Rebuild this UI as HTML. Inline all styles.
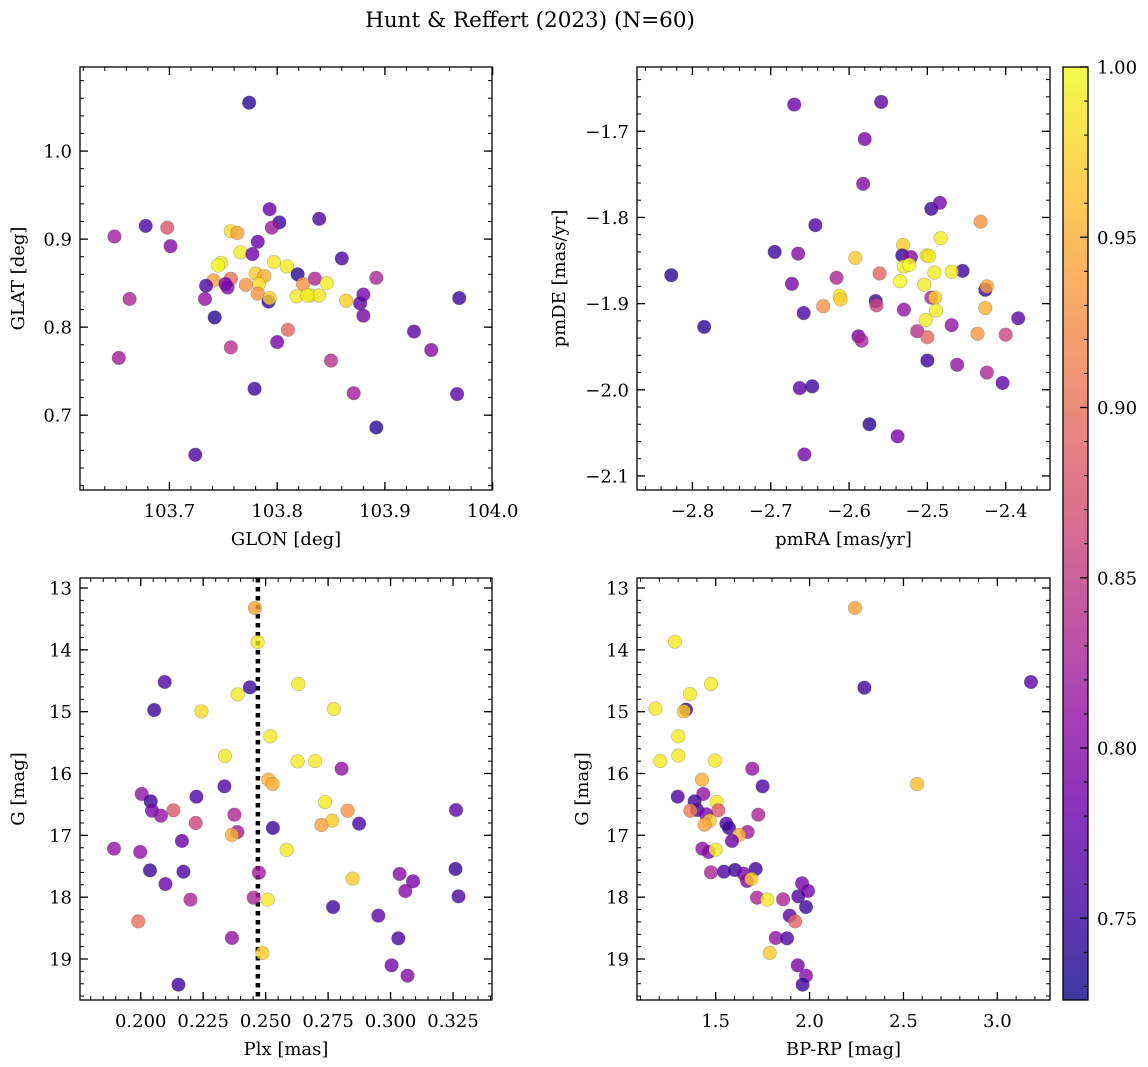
<!DOCTYPE html>
<html><head><meta charset="utf-8">
<style>
html,body{margin:0;padding:0;background:#fff;}
svg{display:block;font-family:"DejaVu Serif","Liberation Serif",serif;}
</style></head>
<body>
<svg id="fig" width="1148" height="1067" viewBox="0 0 1148 1067" xmlns="http://www.w3.org/2000/svg">
<rect width="1148" height="1067" fill="#fff"/>
<text x="530" y="27" font-size="21.5" text-anchor="middle">Hunt &amp; Reffert (2023) (N=60)</text>
</svg>
<script>
// ---- Panel 1: GLON vs GLAT ----
const glon1 = [103.774,103.793,103.802,103.795,103.839,103.678,103.698,103.649,103.701,103.757,103.763,103.782,103.766,103.777,103.748,103.745,103.797,103.809,103.860,103.819,103.835,103.846,103.892,103.741,103.757,103.780,103.788,103.783,103.771,103.734,103.754,103.824,103.782,103.792,103.793,103.818,103.831,103.839,103.864,103.880,103.877,103.880,103.969,103.663,103.733,103.742,103.810,103.800,103.757,103.653,103.927,103.943,103.850,103.779,103.871,103.967,103.892,103.724,103.752,103.828];
const glat1 = [1.055,0.934,0.919,0.913,0.923,0.915,0.913,0.903,0.892,0.909,0.907,0.897,0.885,0.883,0.873,0.870,0.874,0.869,0.878,0.860,0.855,0.850,0.856,0.853,0.855,0.861,0.858,0.849,0.848,0.847,0.845,0.849,0.838,0.829,0.833,0.835,0.836,0.836,0.830,0.837,0.827,0.813,0.833,0.832,0.832,0.811,0.797,0.783,0.777,0.765,0.795,0.774,0.762,0.730,0.725,0.724,0.686,0.655,0.849,0.836];
const prob1 = [0.74,0.78,0.75,0.82,0.76,0.76,0.88,0.82,0.80,0.98,0.94,0.78,0.99,0.78,0.99,1.0,0.99,0.99,0.76,0.74,0.83,0.99,0.83,0.94,0.90,0.97,0.95,0.98,0.93,0.76,0.80,0.93,0.93,0.74,0.97,0.99,0.99,0.99,0.97,0.79,0.77,0.79,0.75,0.83,0.81,0.74,0.89,0.79,0.84,0.82,0.77,0.80,0.84,0.75,0.82,0.77,0.74,0.76,0.79,0.99];
// ---- Panel 2: pmRA vs pmDE ----
const pmra2 = [-2.670,-2.559,-2.580,-2.582,-2.495,-2.484,-2.432,-2.643,-2.483,-2.695,-2.665,-2.531,-2.532,-2.521,-2.592,-2.501,-2.498,-2.827,-2.455,-2.469,-2.530,-2.523,-2.491,-2.561,-2.616,-2.535,-2.673,-2.504,-2.426,-2.424,-2.612,-2.611,-2.566,-2.565,-2.495,-2.490,-2.633,-2.530,-2.489,-2.426,-2.658,-2.502,-2.384,-2.469,-2.513,-2.500,-2.436,-2.400,-2.588,-2.584,-2.785,-2.500,-2.462,-2.424,-2.404,-2.663,-2.647,-2.574,-2.538,-2.657];
const pmde2 = [-1.669,-1.666,-1.709,-1.761,-1.790,-1.783,-1.805,-1.809,-1.824,-1.840,-1.842,-1.832,-1.844,-1.846,-1.847,-1.844,-1.845,-1.867,-1.862,-1.863,-1.857,-1.855,-1.864,-1.865,-1.870,-1.874,-1.877,-1.878,-1.884,-1.880,-1.891,-1.895,-1.897,-1.902,-1.893,-1.893,-1.903,-1.907,-1.908,-1.905,-1.911,-1.919,-1.917,-1.925,-1.932,-1.939,-1.935,-1.936,-1.938,-1.943,-1.927,-1.966,-1.971,-1.980,-1.992,-1.998,-1.996,-2.040,-2.054,-2.075];
const prob2 = [0.78,0.77,0.79,0.80,0.75,0.79,0.93,0.76,0.99,0.75,0.80,0.97,0.75,0.80,0.97,0.98,0.99,0.74,0.75,0.99,0.99,1.0,0.99,0.89,0.83,1.0,0.79,0.99,0.75,0.94,0.99,0.97,0.75,0.86,0.83,0.97,0.93,0.81,0.99,0.95,0.76,0.99,0.77,0.81,0.84,0.89,0.93,0.86,0.79,0.83,0.74,0.75,0.81,0.83,0.77,0.77,0.75,0.74,0.79,0.79];
// ---- Panel 3: Plx vs G ----
const plx3 = [0.2457,0.2468,0.2096,0.2437,0.2631,0.2388,0.2054,0.2243,0.2773,0.2519,0.2337,0.2628,0.2698,0.2804,0.2511,0.2528,0.2335,0.2004,0.2040,0.2223,0.2045,0.2081,0.2131,0.2375,0.2220,0.2738,0.2828,0.2766,0.2723,0.2874,0.2529,0.2387,0.2365,0.2165,0.1893,0.1998,0.2584,0.3262,0.2037,0.2171,0.2473,0.2848,0.3036,0.3090,0.3260,0.2099,0.3059,0.3272,0.2199,0.2452,0.2508,0.2770,0.2951,0.1990,0.2365,0.3031,0.2487,0.3004,0.3068,0.2151];
const gmag3 = [13.323,13.873,14.520,14.606,14.552,14.719,14.973,14.994,14.957,15.399,15.717,15.803,15.798,15.922,16.099,16.170,16.207,16.331,16.450,16.374,16.601,16.682,16.595,16.666,16.800,16.461,16.601,16.762,16.833,16.811,16.881,16.946,16.994,17.091,17.215,17.269,17.237,16.590,17.566,17.587,17.604,17.700,17.625,17.744,17.544,17.787,17.900,17.986,18.040,18.008,18.040,18.159,18.299,18.391,18.660,18.666,18.903,19.102,19.269,19.415];
const prob3 = [0.94,0.99,0.76,0.75,0.99,0.99,0.75,0.98,0.99,0.99,0.99,0.99,0.99,0.81,0.95,0.95,0.76,0.81,0.75,0.76,0.79,0.81,0.88,0.83,0.86,0.99,0.93,0.97,0.94,0.76,0.75,0.82,0.95,0.78,0.81,0.81,0.99,0.77,0.75,0.76,0.82,0.97,0.80,0.79,0.75,0.78,0.80,0.76,0.83,0.83,0.99,0.75,0.77,0.90,0.81,0.76,0.97,0.79,0.80,0.75];
const plxMedian = 0.2469;
// ---- Panel 4: BP-RP vs G ----
const bprp4 = [2.242,1.283,2.292,3.179,1.475,1.363,1.179,1.342,1.330,1.301,1.301,1.205,1.496,1.695,1.427,2.572,1.750,1.434,1.298,1.388,1.505,1.401,1.365,1.514,1.449,1.727,1.468,1.441,1.557,1.571,1.670,1.624,1.587,1.429,1.463,1.500,1.475,1.544,1.603,1.713,1.649,1.667,1.690,1.960,1.992,1.940,1.720,1.859,1.775,1.981,1.894,1.923,1.820,1.880,1.788,1.937,1.981,1.963];
const gmag4 = [13.323,13.868,14.612,14.520,14.552,14.714,14.951,14.967,14.994,15.399,15.711,15.798,15.792,15.922,16.099,16.170,16.207,16.331,16.374,16.450,16.461,16.590,16.601,16.595,16.660,16.666,16.762,16.827,16.811,16.881,16.946,16.994,17.091,17.215,17.269,17.231,17.598,17.587,17.560,17.544,17.620,17.738,17.706,17.776,17.900,17.986,18.008,18.035,18.040,18.159,18.299,18.391,18.660,18.666,18.903,19.102,19.269,19.415];
const prob4 = [0.94,0.99,0.75,0.77,0.99,0.99,0.99,0.75,0.97,0.99,0.99,0.99,0.99,0.81,0.95,0.96,0.76,0.81,0.76,0.75,0.99,0.76,0.91,0.88,0.79,0.83,0.97,0.94,0.76,0.75,0.82,0.95,0.78,0.81,0.80,0.99,0.83,0.76,0.75,0.75,0.79,0.80,0.97,0.79,0.79,0.76,0.83,0.83,0.99,0.75,0.77,0.89,0.81,0.76,0.97,0.79,0.80,0.75];
// ---- Colorbar ----
const cbMin = 0.726, cbMax = 1.0;
const cbTicks = [0.75,0.80,0.85,0.90,0.95,1.00];

const NS = "http://www.w3.org/2000/svg";
const svg = document.getElementById('fig');
function mk(tag, attrs, parent){
  const e = document.createElementNS(NS, tag);
  for (const k in attrs) e.setAttribute(k, attrs[k]);
  (parent||svg).appendChild(e);
  return e;
}
const stops = ["#0d0887","#41049d","#6a00a8","#8f0da4","#b12a90","#cc4778","#e16462","#f2844b","#fca636","#fcce25","#f0f921"];
function hex(c){return [parseInt(c.slice(1,3),16),parseInt(c.slice(3,5),16),parseInt(c.slice(5,7),16)];}
function plasma(t){
  t=Math.max(0,Math.min(1,t));
  const f=t*10, i=Math.min(9,Math.floor(f)), u=f-i;
  const a=hex(stops[i]), b=hex(stops[i+1]);
  return 'rgb('+a.map((v,j)=>Math.round(v+(b[j]-v)*u)).join(',')+')';
}
function colorOf(p){return plasma((p-cbMin)/(cbMax-cbMin));}
const TF = 18;
const LF = 18;

function panel(cfg){
  const g = mk('g', {});
  
  
  const {x0,x1,y0,y1,xd,yd,invertY} = cfg;
  const sx = v => x0 + (v - xd[0])/(xd[1]-xd[0])*(x1-x0);
  const sy = invertY ? (v => y0 + (v - yd[0])/(yd[1]-yd[0])*(y1-y0))
                     : (v => y1 - (v - yd[0])/(yd[1]-yd[0])*(y1-y0));
  const cid = 'clip-'+cfg.name;
  const cp = mk('clipPath', {id:cid}, g);
  mk('rect', {x:x0,y:y0,width:x1-x0,height:y1-y0}, cp);
  const pg = mk('g', {'clip-path':'url(#'+cid+')'}, g);
  if (cfg.vline !== undefined){
    const l = mk('line', {x1:sx(cfg.vline),x2:sx(cfg.vline),y1:y0,y2:y1,stroke:'#000','stroke-width':4.5,'stroke-dasharray':'4.5 4.5'}, pg);
    
    
  }
  for (let i=0;i<cfg.xs.length;i++){
    const c = mk('circle', {cx:sx(cfg.xs[i]), cy:sy(cfg.ys[i]), r:6.8, fill:colorOf(cfg.cs[i]), 'fill-opacity':0.8, stroke:'#444', 'stroke-opacity':0.35, 'stroke-width':0.6}, pg);
    
    
  }
  mk('rect', {x:x0,y:y0,width:x1-x0,height:y1-y0,fill:'none',stroke:'#000','stroke-width':1.3}, g);
  const eps=1e-9;
  const xa = mk('g', {}, g);
  
  
  for (let v=Math.ceil(xd[0]/cfg.xminor-eps)*cfg.xminor; v<=xd[1]+eps; v+=cfg.xminor){
    const X=sx(v);
    mk('line',{x1:X,x2:X,y1:y1,y2:y1-4,stroke:'#000','stroke-width':1},xa);
    mk('line',{x1:X,x2:X,y1:y0,y2:y0+4,stroke:'#000','stroke-width':1},xa);
  }
  cfg.xmajor.forEach(v=>{
    const X=sx(v);
    mk('line',{x1:X,x2:X,y1:y1,y2:y1-8,stroke:'#000','stroke-width':1.3},xa);
    mk('line',{x1:X,x2:X,y1:y0,y2:y0+8,stroke:'#000','stroke-width':1.3},xa);
    const t=mk('text',{x:X,y:y1+27,'font-size':TF,'text-anchor':'middle'},xa);
    t.textContent=(v<0?'\u2212':'')+Math.abs(v).toFixed(cfg.xdec);
    
    
  });
  const ya = mk('g', {}, g);
  
  
  const ylo=Math.min(yd[0],yd[1]), yhi=Math.max(yd[0],yd[1]);
  for (let v=Math.ceil(ylo/cfg.yminor-eps)*cfg.yminor; v<=yhi+eps; v+=cfg.yminor){
    const Y=sy(v);
    mk('line',{x1:x0,x2:x0+4,y1:Y,y2:Y,stroke:'#000','stroke-width':1},ya);
    mk('line',{x1:x1,x2:x1-4,y1:Y,y2:Y,stroke:'#000','stroke-width':1},ya);
  }
  cfg.ymajor.forEach(v=>{
    const Y=sy(v);
    mk('line',{x1:x0,x2:x0+8,y1:Y,y2:Y,stroke:'#000','stroke-width':1.3},ya);
    mk('line',{x1:x1,x2:x1-8,y1:Y,y2:Y,stroke:'#000','stroke-width':1.3},ya);
    const t=mk('text',{x:x0-8,y:Y+6.5,'font-size':TF,'text-anchor':'end'},ya);
    t.textContent=(v<0?'\u2212':'')+Math.abs(v).toFixed(cfg.ydec);
    
    
  });
  const xl=mk('text',{x:(x0+x1)/2,y:y1+55,'font-size':LF,'text-anchor':'middle'},g);
  xl.textContent=cfg.xlabel;
  
  
  const yl=mk('text',{x:0,y:0,'font-size':LF,'text-anchor':'middle',transform:'translate('+cfg.ylx+','+((y0+y1)/2)+') rotate(-90)'},g);
  yl.textContent=cfg.ylabel;
  
  
}

panel({name:'glon-glat-panel',x0:80,x1:492,y0:67,y1:490,xd:[103.617,103.9994],yd:[0.615,1.0955],
  xs:glon1,ys:glat1,cs:prob1,xmajor:[103.7,103.8,103.9,104.0],xminor:0.02,xdec:1,
  ymajor:[0.7,0.8,0.9,1.0],yminor:0.02,ydec:1,xlabel:'GLON [deg]',ylabel:'GLAT [deg]',ylx:24});
panel({name:'proper-motion-panel',x0:637,x1:1050,y0:67,y1:490,xd:[-2.8708,-2.3434],yd:[-2.1163,-1.6254],
  xs:pmra2,ys:pmde2,cs:prob2,xmajor:[-2.8,-2.7,-2.6,-2.5,-2.4],xminor:0.02,xdec:1,
  ymajor:[-2.1,-2.0,-1.9,-1.8,-1.7],yminor:0.02,ydec:1,xlabel:'pmRA [mas/yr]',ylabel:'pmDE [mas/yr]',ylx:565});
panel({name:'parallax-mag-panel',x0:80,x1:492,y0:578,y1:1000,xd:[0.1757,0.3406],yd:[12.838,19.663],invertY:true,
  xs:plx3,ys:gmag3,cs:prob3,vline:plxMedian,xmajor:[0.200,0.225,0.250,0.275,0.300,0.325],xminor:0.005,xdec:3,
  ymajor:[13,14,15,16,17,18,19],yminor:0.2,ydec:0,xlabel:'Plx [mas]',ylabel:'G [mag]',ylx:24});
panel({name:'cmd-panel',x0:637,x1:1050,y0:578,y1:1000,xd:[1.0811,3.2803],yd:[12.838,19.663],invertY:true,
  xs:bprp4,ys:gmag4,cs:prob4,xmajor:[1.5,2.0,2.5,3.0],xminor:0.1,xdec:1,
  ymajor:[13,14,15,16,17,18,19],yminor:0.2,ydec:0,xlabel:'BP-RP [mag]',ylabel:'G [mag]',ylx:588});

(function(){
  const cx0=1063,cx1=1088,cy0=67,cy1=1000;
  const g=mk('g',{});
  
  
  const defs=mk('defs',{},g);
  const lg=mk('linearGradient',{id:'cbgrad',x1:0,y1:1,x2:0,y2:0},defs);
  stops.forEach((c,i)=>mk('stop',{offset:(i/10),'stop-color':c},lg));
  mk('rect',{x:cx0,y:cy0,width:cx1-cx0,height:cy1-cy0,fill:'url(#cbgrad)','fill-opacity':0.8},g);
  mk('rect',{x:cx0,y:cy0,width:cx1-cx0,height:cy1-cy0,fill:'none',stroke:'#000','stroke-width':1.3},g);
  const sy=v=>cy1-(v-cbMin)/(cbMax-cbMin)*(cy1-cy0);
  for(let v=0.73; v<=1.0001; v+=0.01){
    const Y=sy(v);
    mk('line',{x1:cx1,x2:cx1-4,y1:Y,y2:Y,stroke:'#000','stroke-width':1},g);
  }
  cbTicks.forEach(v=>{
    const Y=sy(v);
    mk('line',{x1:cx1,x2:cx1-8,y1:Y,y2:Y,stroke:'#000','stroke-width':1.3},g);
    const t=mk('text',{x:cx1+9,y:Y+6.5,'font-size':TF},g);
    t.textContent=v.toFixed(2);
    
    
  });
})();
</script>
</body></html>
